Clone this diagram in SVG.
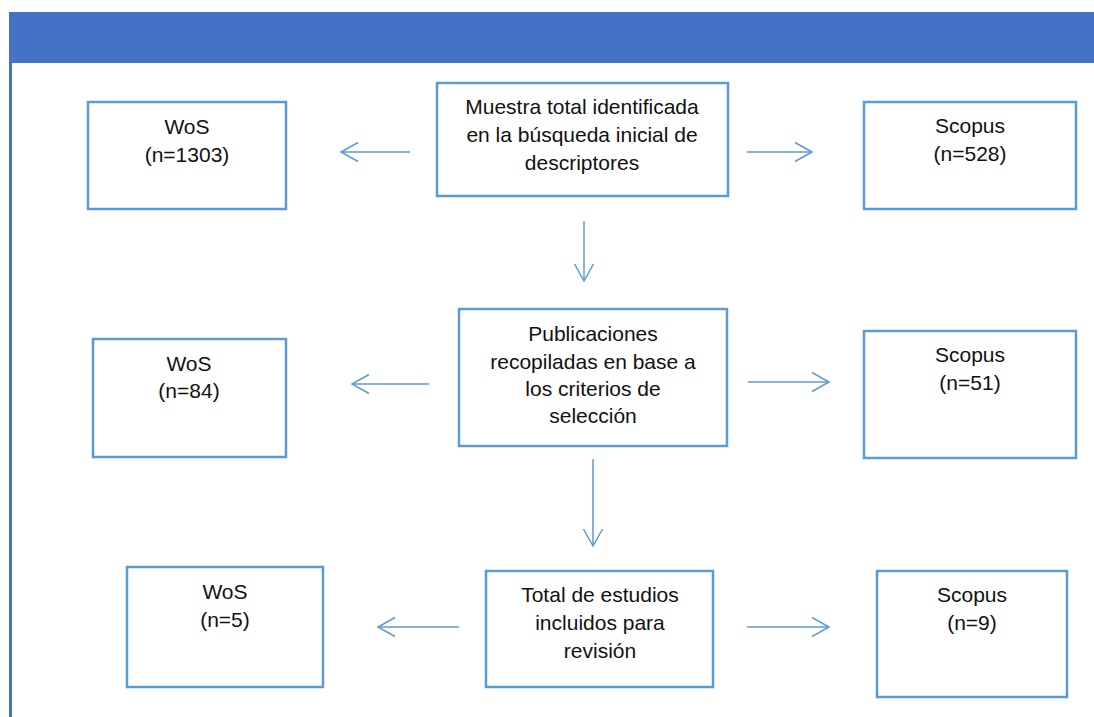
<svg xmlns="http://www.w3.org/2000/svg" width="1094" height="717" viewBox="0 0 1094 717">
  <style>
    .box { fill: #ffffff; stroke: #5B9BD5; stroke-width: 2.5; }
    .lbl { font-family: "Liberation Sans", Arial, sans-serif; font-size: 21px; fill: #111111; text-anchor: middle; }
    .con { stroke: #5B9BD5; stroke-width: 1.5; fill: none; }
  </style>
  <defs>
    <marker id="open" markerUnits="userSpaceOnUse" viewBox="-18 -11 20 22" markerWidth="20" markerHeight="22" refX="0" refY="0" orient="auto">
      <path d="M-17,-9.5 L0,0 L-17,9.5" fill="none" stroke="#5B9BD5" stroke-width="1.5"/>
    </marker>
  </defs>
  <rect x="0" y="0" width="1094" height="717" fill="#ffffff"/>
  <g id="frame">
    <rect x="9" y="12" width="1085" height="51" fill="#4472C4"/>
    <rect x="9" y="63" width="3" height="654" fill="#4472C4"/>
  </g>
  <g id="connectors">
    <line class="con" x1="410" y1="152" x2="341" y2="152" marker-end="url(#open)"/>
    <line class="con" x1="747" y1="152" x2="812" y2="152" marker-end="url(#open)"/>
    <line class="con" x1="584" y1="221" x2="584" y2="281" marker-end="url(#open)"/>
    <line class="con" x1="429" y1="384" x2="352" y2="384" marker-end="url(#open)"/>
    <line class="con" x1="748" y1="382" x2="829" y2="382" marker-end="url(#open)"/>
    <line class="con" x1="593" y1="459" x2="593" y2="546" marker-end="url(#open)"/>
    <line class="con" x1="459" y1="627" x2="378" y2="627" marker-end="url(#open)"/>
    <line class="con" x1="747" y1="627" x2="829" y2="627" marker-end="url(#open)"/>
  </g>
  <g id="wos1">
    <rect class="box" x="88" y="102" width="198" height="107"/>
    <text class="lbl" x="187" y="134">WoS</text>
    <text class="lbl" x="187" y="162">(n=1303)</text>
  </g>
  <g id="muestra">
    <rect class="box" x="437" y="83" width="291" height="113"/>
    <text class="lbl" x="582" y="114">Muestra total identificada</text>
    <text class="lbl" x="582" y="142">en la búsqueda inicial de</text>
    <text class="lbl" x="582" y="170">descriptores</text>
  </g>
  <g id="scopus1">
    <rect class="box" x="864" y="102" width="212" height="107"/>
    <text class="lbl" x="970" y="133">Scopus</text>
    <text class="lbl" x="970" y="161">(n=528)</text>
  </g>
  <g id="wos2">
    <rect class="box" x="93" y="339" width="193" height="118"/>
    <text class="lbl" x="189" y="371">WoS</text>
    <text class="lbl" x="189" y="398">(n=84)</text>
  </g>
  <g id="publicaciones">
    <rect class="box" x="459" y="309" width="268" height="137"/>
    <text class="lbl" x="593" y="341">Publicaciones</text>
    <text class="lbl" x="593" y="369">recopiladas en base a</text>
    <text class="lbl" x="593" y="396">los criterios de</text>
    <text class="lbl" x="593" y="423">selección</text>
  </g>
  <g id="scopus2">
    <rect class="box" x="864" y="331" width="212" height="127"/>
    <text class="lbl" x="970" y="362">Scopus</text>
    <text class="lbl" x="970" y="390">(n=51)</text>
  </g>
  <g id="wos3">
    <rect class="box" x="127" y="567" width="196" height="120"/>
    <text class="lbl" x="225" y="599">WoS</text>
    <text class="lbl" x="225" y="627">(n=5)</text>
  </g>
  <g id="total">
    <rect class="box" x="486" y="571" width="227" height="116"/>
    <text class="lbl" x="600" y="602">Total de estudios</text>
    <text class="lbl" x="600" y="630">incluidos para</text>
    <text class="lbl" x="600" y="658">revisión</text>
  </g>
  <g id="scopus3">
    <rect class="box" x="877" y="571" width="190" height="126"/>
    <text class="lbl" x="972" y="602">Scopus</text>
    <text class="lbl" x="972" y="630">(n=9)</text>
  </g>
</svg>
